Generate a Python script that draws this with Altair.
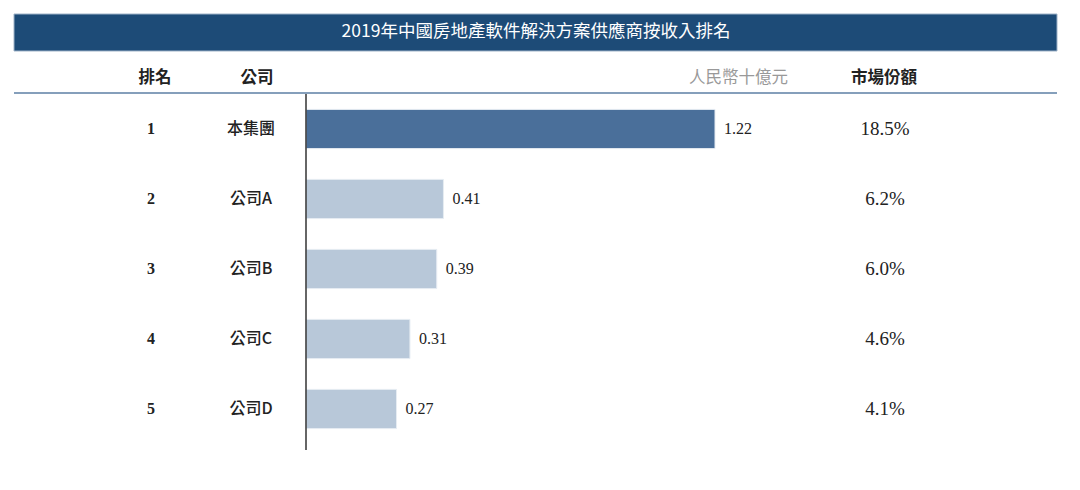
import pandas as pd
import altair as alt

ranks = [1, 2, 3, 4, 5]
companies = ['本集團', '公司A', '公司B', '公司C', '公司D']
revenue = [1.22, 0.41, 0.39, 0.31, 0.27]
shares = ['18.5%', '6.2%', '6.0%', '4.6%', '4.1%']

title_text = '2019年中國房地產軟件解決方案供應商按收入排名'

df = pd.DataFrame({'rank': ranks, 'company': companies,
                   'revenue': revenue, 'share': shares})

cjk = 'Noto Sans CJK TC'
serif = 'Liberation Serif'

y_enc = alt.Y('rank:O', axis=None,
              scale=alt.Scale(range=[86, 436], paddingInner=0.44, paddingOuter=0.22))
x_enc = alt.X('revenue:Q', axis=None, scale=alt.Scale(domain=[0, 1.22], range=[298, 707]))

base = alt.Chart(df)

#------------------------------------------------------------------ bars + labels
bars = base.mark_bar(stroke='#e6ecf2', strokeWidth=1).encode(
    x=x_enc,
    y=y_enc,
    color=alt.condition(alt.datum.rank == 1, alt.value('#4a6f9a'), alt.value('#b8c8d9'))
)

values = base.mark_text(align='left', dx=9, font=serif, fontSize=16, color='#222').encode(
    x=x_enc,
    y=y_enc,
    text=alt.Text('revenue:Q', format='.2f')
)

rank_txt = base.mark_text(font=serif, fontWeight='bold', fontSize=16, color='#222').encode(
    x=alt.value(143), y=y_enc, text='rank:O'
)

company_txt = base.mark_text(font=cjk, fontWeight=500, fontSize=16, color='#222').encode(
    x=alt.value(243), y=y_enc, text='company:N'
)

share_txt = base.mark_text(font=serif, fontSize=19, color='#222').encode(
    x=alt.value(877), y=y_enc, text='share:N'
)

#------------------------------------------------------------------ banner / header
deco = alt.Chart(pd.DataFrame({'t': [title_text]}))

banner = deco.mark_rect(color='#1d4b77', stroke='#9fb3c8', strokeWidth=1).encode(
    x=alt.value(6), x2=alt.value(1049), y=alt.value(6), y2=alt.value(43)
)
banner_txt = deco.mark_text(font=cjk, fontSize=17.5, color='white').encode(
    x=alt.value(528), y=alt.value(24), text='t:N'
)

def header(label, xpos, align='center', color='#222', bold=True):
    return alt.Chart(pd.DataFrame({'t': [label]})).mark_text(
        font=cjk, fontSize=16.5, align=align, color=color,
        fontWeight='bold' if bold else 'normal'
    ).encode(x=alt.value(xpos), y=alt.value(70), text='t:N')

h_rank = header('排名', 147)
h_comp = header('公司', 249)
h_unit = header('人民幣十億元', 780, align='right', color='#999', bold=False)
h_share = header('市場份額', 876)

h_line = deco.mark_rule(color='#5c7fa5', strokeWidth=1.5).encode(
    x=alt.value(6), x2=alt.value(1049), y=alt.value(85)
)
v_line = deco.mark_rule(color='#333', strokeWidth=1.5).encode(
    x=alt.value(298), y=alt.value(86), y2=alt.value(442)
)

chart = alt.layer(
    banner, banner_txt, h_rank, h_comp, h_unit, h_share, h_line,
    bars, values, rank_txt, company_txt, share_txt, v_line
).properties(
    width=1064, height=474, autosize='none', padding=0, background='white'
).configure_view(stroke=None)

chart.save("out.html", embed_options={"renderer": "svg", "actions": False})
